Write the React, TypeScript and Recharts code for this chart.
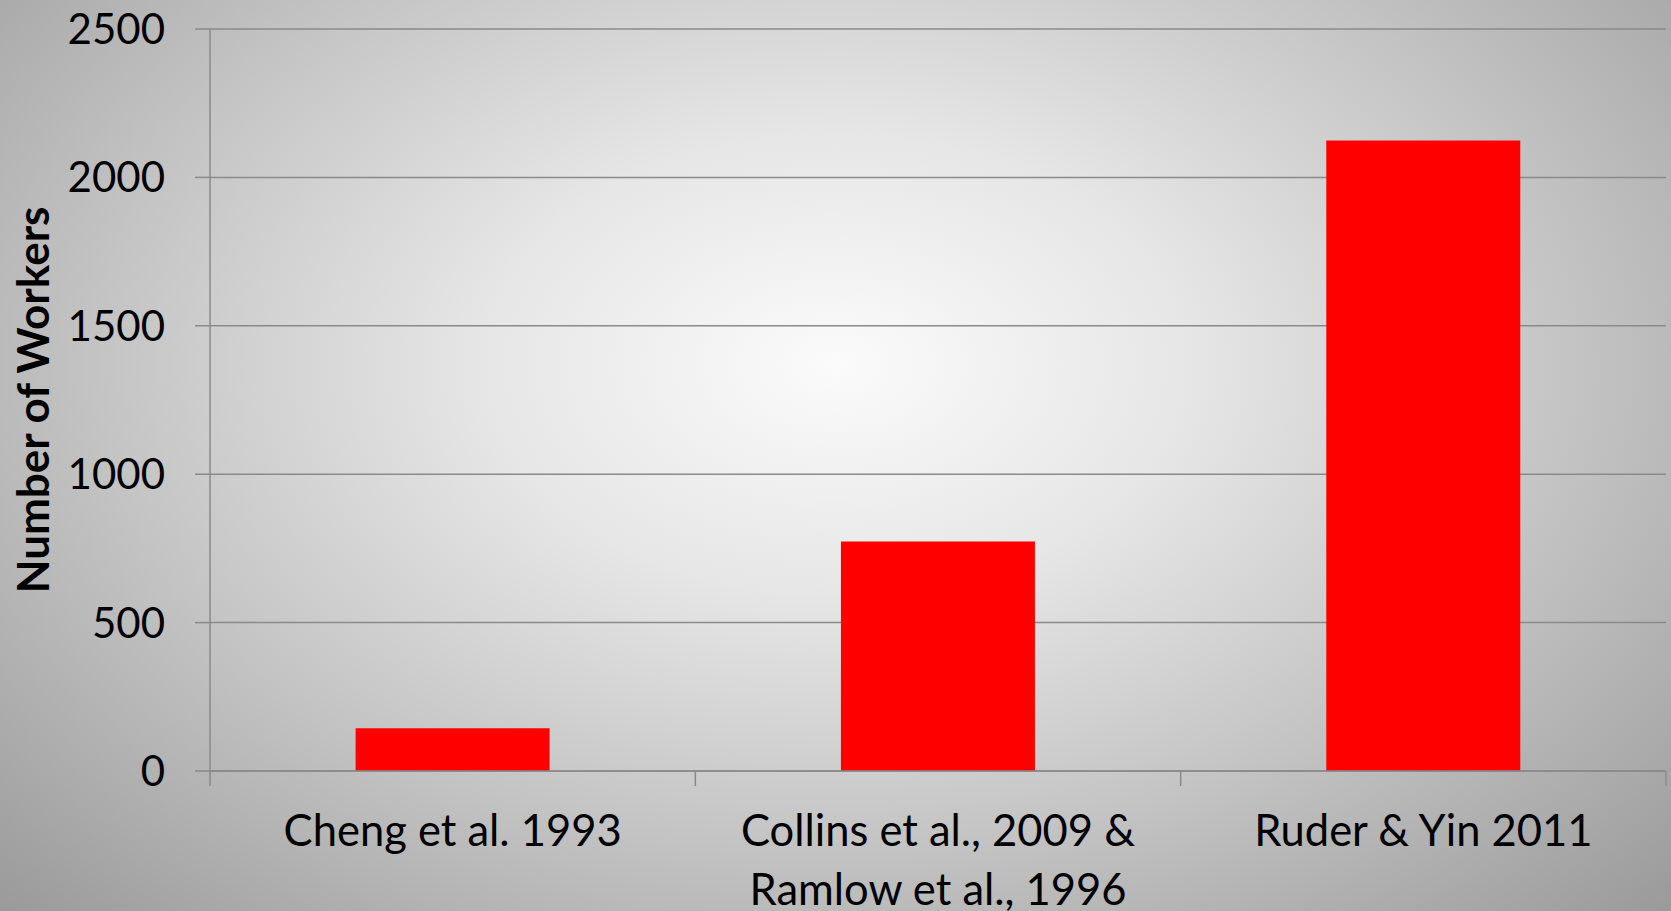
import React from "react";
import { BarChart, Bar, XAxis, YAxis, CartesianGrid, Label } from "recharts";

// Study sources shown along the category axis
const studies = [
  "Cheng et al. 1993",
  "Collins et al., 2009 & Ramlow et al., 1996",
  "Ruder & Yin 2011",
];

// Tick label lines for each study (long names broken onto two lines)
const studyLabelLines: string[][] = [
  ["Cheng et al. 1993"],
  ["Collins et al., 2009 &", "Ramlow et al., 1996"],
  ["Ruder & Yin 2011"],
];

// Number of workers included in each study
const workers = [144, 773, 2124];

const yTicks = [0, 500, 1000, 1500, 2000, 2500];

const data = studies.map((study, i) => ({ study, workers: workers[i] }));

const FONT = "Lato, 'Open Sans', sans-serif";
const GRID = "#8a8a8a";

const StudyTick = (props: any) => {
  const { x, y, payload, index, visibleTicksCount } = props;
  const half = payload.offset || 0;
  const left = payload.coordinate - half;
  const right = payload.coordinate + half;
  const lines = studyLabelLines[index] || [String(payload.value)];
  return (
    <g>
      <line x1={left} y1={y} x2={left} y2={y + 15} stroke={GRID} strokeWidth={1.5} />
      {index === visibleTicksCount - 1 && (
        <line x1={right} y1={y} x2={right} y2={y + 15} stroke={GRID} strokeWidth={1.5} />
      )}
      {lines.map((line: string, i: number) => (
        <text
          key={i}
          x={x}
          y={y + 75 + i * 59}
          textAnchor="middle"
          fontFamily={FONT}
          fontSize={43.5}
          fill="#000"
        >
          {line}
        </text>
      ))}
    </g>
  );
};

const AxisTitle = (props: any) => {
  const { viewBox } = props;
  const cx = 32;
  const cy = viewBox.y + viewBox.height / 2;
  return (
    <text
      x={cx}
      y={cy}
      transform={`rotate(-90 ${cx} ${cy})`}
      textAnchor="middle"
      dominantBaseline="central"
      fontFamily={FONT}
      fontWeight="bold"
      fontSize={44}
      fill="#000"
    >
      Number of Workers
    </text>
  );
};

export default function App() {
  return (
    <div
      style={{
        position: "absolute",
        left: 0,
        top: 0,
        width: 1671,
        height: 911,
        background:
          "radial-gradient(ellipse farthest-corner at 50% 40%, #fbfbfb 0%, #e6e6e6 30%, #c4c4c4 62%, #9a9a9a 100%)",
      }}
    >
      <BarChart
        width={1671}
        height={911}
        data={data}
        margin={{ top: 29, right: 5, bottom: 0, left: 0 }}
        barCategoryGap="30%"
      >
        <CartesianGrid vertical={false} stroke={GRID} strokeWidth={1.5} />
        <XAxis
          dataKey="study"
          axisLine={{ stroke: GRID, strokeWidth: 1.5 }}
          tickLine={false}
          tickSize={0}
          tickMargin={0}
          height={140}
          interval={0}
          tick={<StudyTick />}
        />
        <YAxis
          width={210}
          domain={[0, 2500]}
          ticks={yTicks}
          interval={0}
          axisLine={{ stroke: GRID, strokeWidth: 1.5 }}
          tickLine={{ stroke: GRID, strokeWidth: 1.5 }}
          tickSize={15}
          tickMargin={30}
          tick={{ fontFamily: FONT, fontSize: 42, fill: "#000" }}
        >
          <Label content={<AxisTitle />} />
        </YAxis>
        <Bar dataKey="workers" fill="#ff0000" isAnimationActive={false} />
      </BarChart>
    </div>
  );
}
